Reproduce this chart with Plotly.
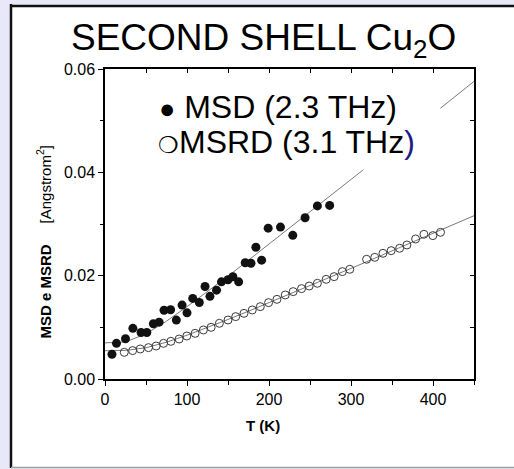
import plotly.graph_objects as go

# ---------------- data ----------------
msd_T = [8.5, 14, 25, 34, 44, 51, 59, 66, 72, 80, 87, 94, 100, 107, 115, 122,
         128, 136, 142, 150, 156, 163, 171, 178, 184, 191, 199, 214, 229, 244, 259, 274]
msd_val = [0.0048, 0.0069, 0.0078, 0.0098, 0.0090, 0.0090, 0.0107, 0.0110, 0.0133,
           0.0134, 0.0114, 0.0143, 0.0128, 0.0156, 0.0148, 0.0179, 0.0160, 0.0172,
           0.0188, 0.0192, 0.0198, 0.0188, 0.0225, 0.0224, 0.0255, 0.0230, 0.0292,
           0.0294, 0.0278, 0.0312, 0.0335, 0.0336]

msrd_T = [23.5, 33.7, 43, 53, 62.4, 71.4, 80.3, 90.4, 99.8, 109.9, 120, 129.4, 139.5,
          150, 159.4, 169.5, 179.6, 189.4, 199.5, 209.7, 219.8, 229.5, 239.7, 249, 259,
          269.7, 279.4, 289.5, 298.5, 319, 329, 339, 349, 359.3, 368.2, 378.8, 388.9,
          399.8, 409.2]
msrd_val = [0.00516, 0.00549, 0.00581, 0.00607, 0.00639, 0.00690, 0.00729, 0.00774,
            0.00832, 0.00884, 0.00949, 0.01000, 0.01078, 0.01142, 0.01207, 0.01271,
            0.01336, 0.01400, 0.01478, 0.01542, 0.01626, 0.01691, 0.01749, 0.01800,
            0.01852, 0.01929, 0.01981, 0.02078, 0.02123, 0.02317, 0.02355, 0.02433,
            0.02484, 0.02530, 0.02594, 0.02710, 0.02801, 0.02775, 0.02839]

# fitted curves (MSD line hidden behind the legend)
msd_fit_T = [0, 25, 50, 75, 100, 125, 150, 175, 200, 225, 250, 275, 300, 315,
             None, 409, 425, 450]
msd_fit_val = [0.0070, 0.00717, 0.00874, 0.0112, 0.0140, 0.0169, 0.0199, 0.0230,
               0.0261, 0.0292, 0.0323, 0.0355, 0.0386, 0.0405,
               None, 0.0524, 0.0544, 0.0576]

msrd_fit_T = [0, 25, 50, 75, 100, 125, 150, 175, 200, 225, 250, 275, 300, 325, 350,
              375, 400, 425, 450]
msrd_fit_val = [0.00548, 0.00553, 0.00605, 0.00713, 0.00848, 0.00997, 0.01152,
                0.01313, 0.01476, 0.01640, 0.01806, 0.01974, 0.0214, 0.0231, 0.02479,
                0.02648, 0.02818, 0.02987, 0.0316]

x_ticks = [0, 100, 200, 300, 400]
y_ticks = [0.00, 0.02, 0.04, 0.06]
y_tick_labels = ["0.00", "0.02", "0.04", "0.06"]

# ---------------- layout geometry ----------------
W, H = 514, 469
ML, MR, MT, MB = 105, 40, 69, 90
PW, PH = W - ML - MR, H - MT - MB


def px(x):
    return (x - ML) / PW


def py(y):
    return (H - MB - y) / PH


SANS = "Liberation Sans, Arial, sans-serif"
LAV = "#e8e8f8"

fig = go.Figure()

fig.add_trace(go.Scatter(x=msd_fit_T, y=msd_fit_val, mode="lines",
                         line=dict(color="#7a7a7a", width=1), connectgaps=False,
                         showlegend=False, hoverinfo="skip"))
fig.add_trace(go.Scatter(x=msrd_fit_T, y=msrd_fit_val, mode="lines",
                         line=dict(color="#7a7a7a", width=1),
                         showlegend=False, hoverinfo="skip"))
fig.add_trace(go.Scatter(x=msrd_T, y=msrd_val, mode="markers", name="MSRD",
                         marker=dict(symbol="circle-open", size=8, color="#3a3a3a",
                                     line=dict(width=1, color="#3a3a3a")),
                         showlegend=False))
fig.add_trace(go.Scatter(x=msd_T, y=msd_val, mode="markers", name="MSD",
                         marker=dict(symbol="circle", size=9, color="#111111"),
                         showlegend=False))
# empty trace to create the mirrored (inside-tick) top/right axes
fig.add_trace(go.Scatter(x=[None], y=[None], xaxis="x2", yaxis="y2",
                         showlegend=False, hoverinfo="skip"))

fig.update_layout(
    width=W, height=H,
    margin=dict(l=ML, r=MR, t=MT, b=MB),
    paper_bgcolor="white",
    plot_bgcolor="white",
    showlegend=False,
    xaxis=dict(range=[0, 450], tickvals=x_ticks, ticks="outside", ticklen=5,
               tickwidth=1.2, tickcolor="black", showgrid=False, zeroline=False,
               showline=True, linecolor="black", linewidth=1.5, mirror=True,
               tickfont=dict(family=SANS, size=16, color="black"),
               minor=dict(tickvals=[50, 150, 250, 350, 450], ticks="outside",
                          ticklen=4, tickcolor="black", tickwidth=1.2, showgrid=False)),
    yaxis=dict(range=[0, 0.06], tickvals=y_ticks, ticktext=y_tick_labels,
               ticks="outside", ticklen=5, tickwidth=1.2, tickcolor="black",
               showgrid=False, zeroline=False, showline=True, linecolor="black",
               linewidth=1.5, mirror=True,
               tickfont=dict(family=SANS, size=16, color="black"),
               minor=dict(tickvals=[0.01, 0.03, 0.05], ticks="outside", ticklen=3,
                          tickcolor="black", tickwidth=1.2, showgrid=False)),
    xaxis2=dict(range=[0, 450], overlaying="x", side="top", ticks="inside",
                tickvals=[50, 100, 150, 200, 250, 300, 350, 400], ticklen=4,
                tickwidth=1.2, tickcolor="black", showticklabels=False,
                showgrid=False, zeroline=False, showline=False),
    yaxis2=dict(range=[0, 0.06], overlaying="y", side="right", ticks="inside",
                tickvals=[0.01, 0.02, 0.03, 0.04, 0.05], ticklen=4, tickwidth=1.2,
                tickcolor="black", showticklabels=False, showgrid=False,
                zeroline=False, showline=False),
)

# lavender page strips around the white panel, and the panel's frame lines
fig.add_shape(type="rect", xref="paper", yref="paper", x0=px(-2), x1=px(10.5),
              y0=py(471), y1=py(-2), fillcolor=LAV, line=dict(width=0), layer="below")
fig.add_shape(type="rect", xref="paper", yref="paper", x0=px(-2), x1=px(516),
              y0=py(5), y1=py(-2), fillcolor=LAV, line=dict(width=0), layer="below")
fig.add_shape(type="rect", xref="paper", yref="paper", x0=px(-2), x1=px(516),
              y0=py(471), y1=py(468), fillcolor=LAV, line=dict(width=0), layer="below")
fig.add_shape(type="line", xref="paper", yref="paper", x0=px(11), x1=px(11),
              y0=py(4), y1=py(468), line=dict(color="#111111", width=2.5))
fig.add_shape(type="line", xref="paper", yref="paper", x0=px(10), x1=px(514),
              y0=py(6), y1=py(6), line=dict(color="#111111", width=2.5))
fig.add_shape(type="line", xref="paper", yref="paper", x0=px(11), x1=px(514),
              y0=py(467.5), y1=py(467.5), line=dict(color="#a0a0a0", width=1.5))

ann = dict(xref="paper", yref="paper", showarrow=False)
fig.add_annotation(text="SECOND SHELL Cu<sub>2</sub>O", x=px(263), y=py(40),
                   xanchor="center", yanchor="middle",
                   font=dict(family=SANS, size=37, color="black"), **ann)
fig.add_annotation(text="<span style='font-size:27px'>●</span> MSD (2.3 THz)",
                   x=px(157), y=py(107), xanchor="left", yanchor="middle",
                   font=dict(family=SANS, size=32, color="black"), **ann)
fig.add_annotation(text="<span style='font-size:23px'>❍</span>MSRD (3.1 THz<span style='color:#1c1c86'>)</span>",
                   x=px(156), y=py(142), xanchor="left", yanchor="middle",
                   font=dict(family=SANS, size=32, color="black"), **ann)
fig.add_annotation(text="<b>T (K)</b>", x=px(263), y=py(425), xanchor="center",
                   yanchor="middle", font=dict(family=SANS, size=15, color="black"), **ann)
fig.add_annotation(text="<b>MSD e MSRD</b>\u00a0\u00a0\u00a0\u00a0\u00a0[Angstrom<sup>2</sup>]",
                   textangle=-90, x=px(44), y=py(241.5), xanchor="center",
                   yanchor="middle", font=dict(family=SANS, size=15, color="black"), **ann)

fig.write_html("out.html", config={"displayModeBar": False})
